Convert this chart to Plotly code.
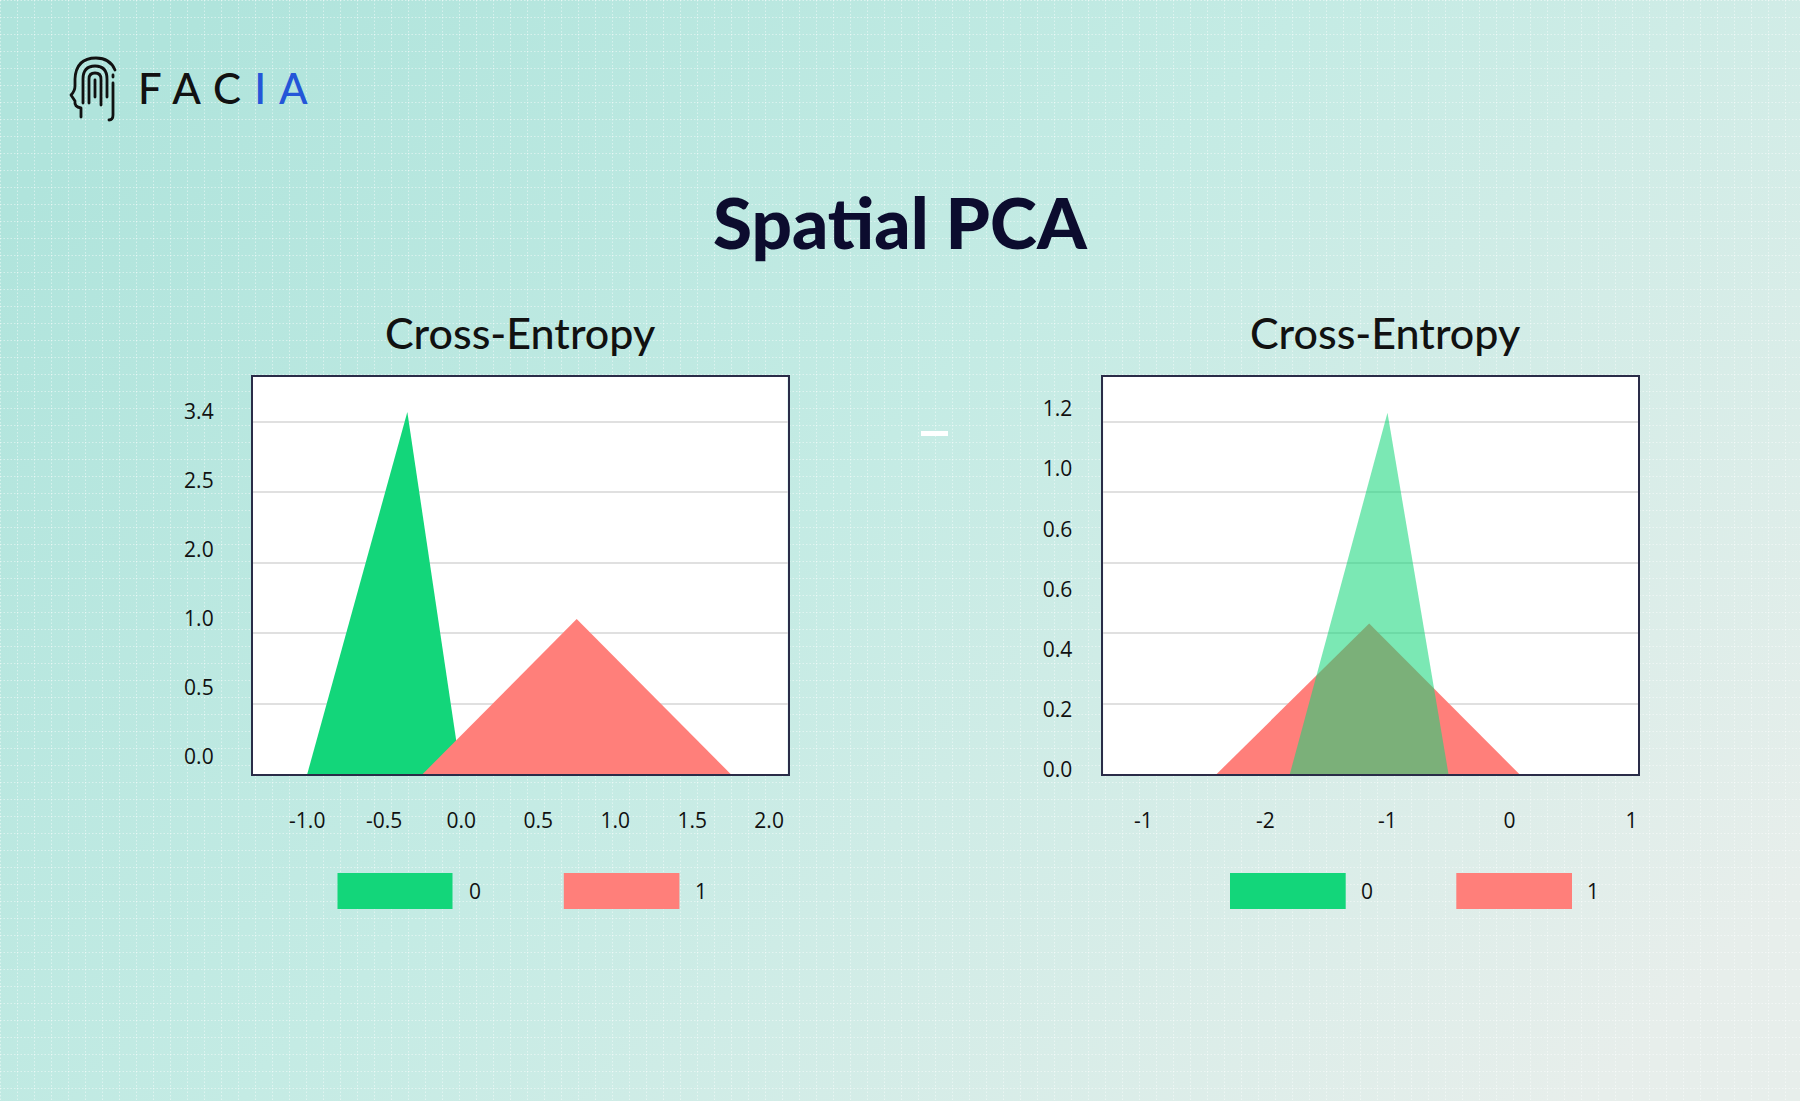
import base64
import numpy as np
import plotly.graph_objects as go

# ---------------- data ----------------
# Left panel
LEFT_X_TICKS = [-1.0, -0.5, 0.0, 0.5, 1.0, 1.5, 2.0]
LEFT_X_TICKTEXT = ["-1.0", "-0.5", "0.0", "0.5", "1.0", "1.5", "2.0"]
LEFT_Y_TICKVALUES = [0.0, 0.5, 1.0, 2.0, 2.5, 3.4]
LEFT_Y_TICKTEXT = ["0.0", "0.5", "1.0", "2.0", "2.5", "3.4"]
left_class0_x = [-1.0, -0.35, 0.0]
left_class0_y = [0.0, 3.4, 0.0]
left_class1_x = [-0.25, 0.75, 1.75]
left_class1_y = [0.0, 1.0, 0.0]

# Right panel
RIGHT_X_TICKS = [-3, -2, -1, 0, 1]
RIGHT_X_TICKTEXT = ["-1", "-2", "-1", "0", "1"]
RIGHT_Y_TICKS = [0.0, 0.2, 0.4, 0.6, 0.8, 1.0, 1.2]
RIGHT_Y_TICKTEXT = ["0.0", "0.2", "0.4", "0.6", "0.6", "1.0", "1.2"]
right_class0_x = [-1.8, -1.0, -0.5]
right_class0_y = [0.0, 1.2, 0.0]
right_class1_x = [-2.4, -1.15, 0.08]
right_class1_y = [0.0, 0.5, 0.0]

CLASS_NAMES = ["0", "1"]
TITLE = "Spatial PCA"
SUBTITLE = "Cross-Entropy"

# ---------------- style ----------------
W, H = 1800, 1101
GREEN = "#13D67A"
RED = "#FF7F7A"
INK = "#111111"
NAVY = "#0c0c2e"
TICK_FONT = dict(family="Open Sans", size=21, color=INK)


def px(x):
    return x / W


def py(y):
    return 1 - y / H


# left y axis is drawn with evenly spaced labels (slot units)
LEFT_SLOT_OFFSET = 0.246
left_slots = [i + LEFT_SLOT_OFFSET for i in range(len(LEFT_Y_TICKVALUES))]
left_knots = [0.0] + left_slots[1:]


def left_y(vals):
    return np.interp(vals, LEFT_Y_TICKVALUES, left_knots)


LEFT_Y_RANGE = [0, 5.758]
RIGHT_Y_RANGE = [0, 1.32]
GRID_FRACS = [k / 5.64 for k in range(1, 6)]

fig = go.Figure()


def tri(x, y, color, xa, ya, name):
    xs = list(x) + [x[0]]
    ys = list(y) + [y[0]]
    fig.add_trace(go.Scatter(
        x=xs, y=ys, fill="toself", mode="lines", line=dict(width=0, color=color),
        fillcolor=color, xaxis=xa, yaxis=ya, name=name,
        showlegend=False, hoverinfo="skip"))


tri(left_class0_x, left_y(left_class0_y), GREEN, "x", "y", CLASS_NAMES[0])
tri(left_class1_x, left_y(left_class1_y), RED, "x", "y", CLASS_NAMES[1])
tri(right_class1_x, right_class1_y, RED, "x2", "y2", CLASS_NAMES[1])
tri(right_class0_x, right_class0_y, "rgba(19,214,122,0.56)", "x2", "y2", CLASS_NAMES[0])

axis_common = dict(showline=True, mirror=True, linecolor="#2a2c48", linewidth=1.5,
                   ticks="", zeroline=False, tickfont=TICK_FONT, automargin=False,
                   fixedrange=True)

LEFT_DOM_X = [px(252.6), px(787.6)]
RIGHT_DOM_X = [px(1103.2), px(1638.2)]
DOM_Y = [py(774), py(376.7)]

fig.update_layout(
    width=W, height=H,
    margin=dict(l=0, r=0, t=0, b=0),
    paper_bgcolor="#c2eae3",
    plot_bgcolor="#ffffff",
    xaxis=dict(domain=LEFT_DOM_X, anchor="y", range=[-1.355, 2.12],
               tickvals=LEFT_X_TICKS, ticktext=LEFT_X_TICKTEXT, showgrid=False,
               ticklabelstandoff=27, **axis_common),
    yaxis=dict(domain=DOM_Y, anchor="x", range=LEFT_Y_RANGE,
               tickvals=left_slots, ticktext=LEFT_Y_TICKTEXT, showgrid=False,
               ticklabelstandoff=33,
               minor=dict(tickvals=[f * LEFT_Y_RANGE[1] for f in GRID_FRACS],
                          showgrid=True, gridcolor="#e0e0e0", gridwidth=2, ticks=""),
               **axis_common),
    xaxis2=dict(domain=RIGHT_DOM_X, anchor="y2", range=[-3.33, 1.055],
                tickvals=RIGHT_X_TICKS, ticktext=RIGHT_X_TICKTEXT, showgrid=False,
                ticklabelstandoff=27, **axis_common),
    yaxis2=dict(domain=DOM_Y, anchor="x2", range=RIGHT_Y_RANGE,
                tickvals=RIGHT_Y_TICKS, ticktext=RIGHT_Y_TICKTEXT, showgrid=False,
                ticklabelstandoff=25, ticklabelshift=-4,
                minor=dict(tickvals=[f * RIGHT_Y_RANGE[1] for f in GRID_FRACS],
                           showgrid=True, gridcolor="#e0e0e0", gridwidth=2, ticks=""),
                **axis_common),
    showlegend=False,
)

# ---------------- background ----------------
bg_svg = f"""<svg xmlns='http://www.w3.org/2000/svg' width='{W}' height='{H}' viewBox='0 0 {W} {H}' preserveAspectRatio='none'>
<defs>
<linearGradient id='g' x1='0' y1='0.2' x2='1' y2='0.8'>
<stop offset='0' stop-color='#b0e4dc'/>
<stop offset='0.45' stop-color='#c4ebe4'/>
<stop offset='1' stop-color='#e7eeeb'/>
</linearGradient>
<pattern id='p' width='17' height='17' patternUnits='userSpaceOnUse'>
<path d='M0 0.5H17M0.5 0V17' stroke='#ffffff' stroke-opacity='0.45' stroke-width='1' stroke-dasharray='1.5 2'/>
</pattern>
</defs>
<rect width='{W}' height='{H}' fill='url(#g)'/>
<rect width='{W}' height='{H}' fill='url(#p)'/>
</svg>"""
bg_uri = "data:image/svg+xml;base64," + base64.b64encode(bg_svg.encode()).decode()

icon_svg = """<svg xmlns='http://www.w3.org/2000/svg' width='52' height='70' viewBox='0 0 52 70'>
<g fill='none' stroke='#111' stroke-width='2.8' stroke-linecap='round' stroke-linejoin='round'>
<path d='M13 64 L13 55 Q6 54 7 48 L3 42 Q7 38 7 33 L7 26 Q8 5 28 5 Q42 5 47 17'/>
<path d='M15 50 L15 26 Q15 13 27 13 Q39 13 39 26 L39 44'/>
<path d='M21 50 L21 26 Q21 20 27 20 Q33 20 33 26 L33 52'/>
<path d='M27 44 L27 27'/>
<path d='M45 22 L45 24'/>
<path d='M45 30 L45 62 Q45 67 41 67'/>
</g></svg>"""
icon_uri = "data:image/svg+xml;base64," + base64.b64encode(icon_svg.encode()).decode()

fig.add_layout_image(dict(source=bg_uri, xref="paper", yref="paper", x=0, y=1,
                          sizex=1, sizey=1, sizing="stretch", xanchor="left",
                          yanchor="top", layer="below"))
fig.add_layout_image(dict(source=icon_uri, xref="paper", yref="paper", x=px(68), y=py(53),
                          sizex=px(52), sizey=70 / H, sizing="stretch", xanchor="left",
                          yanchor="top", layer="above"))

# ---------------- texts ----------------
ann = []
ann.append(dict(text=TITLE, x=px(900), y=py(222), xref="paper", yref="paper",
                showarrow=False, font=dict(family="Lato", size=71, color=NAVY, weight=900),
                xanchor="center", yanchor="middle"))
for cx in (520, 1385):
    ann.append(dict(text=SUBTITLE, x=px(cx), y=py(332), xref="paper", yref="paper",
                    showarrow=False, font=dict(family="Lato", size=43, color=INK, weight=500),
                    xanchor="center", yanchor="middle"))
ann.append(dict(text="<span style='letter-spacing:13px'>FAC<span style='color:#2456d8'>IA</span></span>",
                x=px(136), y=py(88), xref="paper", yref="paper", showarrow=False,
                font=dict(family="Lato", size=42, color=INK, weight=500),
                xanchor="left", yanchor="middle"))

shapes = []
# white plot backgrounds (over the background image, under the grid)
for xa, ya in (("x", "y"), ("x2", "y2")):
    shapes.append(dict(type="rect", xref=f"{xa} domain", yref=f"{ya} domain",
                       x0=0, x1=1, y0=0, y1=1, fillcolor="#ffffff",
                       line=dict(width=0), layer="below"))

# legends
legend_rows = [
    (337.5, 452.5, 475, 563.8, 679.4, 701),
    (1230, 1345.7, 1367, 1456.3, 1572, 1593),
]
for g0, g1, t0, r0, r1, t1 in legend_rows:
    shapes.append(dict(type="rect", xref="paper", yref="paper", x0=px(g0), x1=px(g1),
                       y0=py(909), y1=py(873), fillcolor=GREEN, line=dict(width=0)))
    shapes.append(dict(type="rect", xref="paper", yref="paper", x0=px(r0), x1=px(r1),
                       y0=py(909), y1=py(873), fillcolor=RED, line=dict(width=0)))
    ann.append(dict(text=CLASS_NAMES[0], x=px(t0), y=py(891), xref="paper", yref="paper",
                    showarrow=False, font=dict(family="Open Sans", size=21, color=INK),
                    xanchor="center", yanchor="middle"))
    ann.append(dict(text=CLASS_NAMES[1], x=px(t1), y=py(891), xref="paper", yref="paper",
                    showarrow=False, font=dict(family="Open Sans", size=21, color=INK),
                    xanchor="center", yanchor="middle"))

# small white dash between the panels
shapes.append(dict(type="rect", xref="paper", yref="paper", x0=px(921), x1=px(948),
                   y0=py(436), y1=py(431), fillcolor="#ffffff", line=dict(width=0)))

fig.update_layout(annotations=ann, shapes=shapes)

fig.write_html("out.html", config=dict(displayModeBar=False),
               post_script="document.body.style.margin='0';document.body.style.overflow='hidden';")
